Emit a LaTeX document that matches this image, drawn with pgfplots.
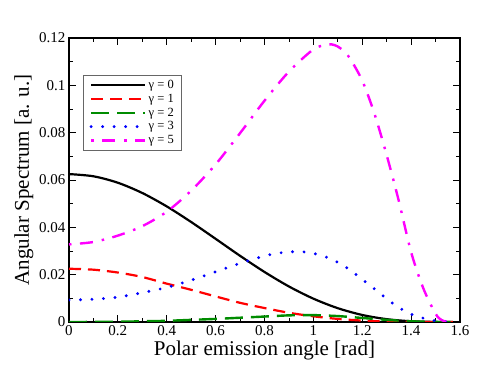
\documentclass[border=0pt]{standalone}
\usepackage{fontspec}
\setmainfont{Liberation Serif}
\usepackage{pgfplots}
\pgfplotsset{compat=1.18}

\definecolor{grgreen}{RGB}{0,140,0}
\definecolor{grmag}{RGB}{255,0,255}

\pgfplotstableread{
x      y
0      0.0625
0.1    0.06157
0.2    0.05884
0.3    0.05450
0.4    0.04884
0.5    0.04224
0.6    0.03514
0.7    0.02796
0.8    0.02114
0.9    0.01501
1.0    0.00986
1.1    0.00583
1.2    0.00297
1.3    0.00120
1.4    0.00031
1.5    0.00002
1.5708 0
}\gzero

\pgfplotstableread{
x      y
0      0.0225
0.1    0.0221
0.2    0.0209
0.3    0.0190
0.4    0.0162
0.5    0.0136
0.6    0.0108
0.7    0.0081
0.8    0.0059
0.9    0.0039
1.0    0.0024
1.1    0.0013
1.2    0.0006
1.3    0.0002
1.4    0.00005
1.5    0
1.5708 0
}\gone

\pgfplotstableread{
x      y
0      0
0.1    0.00003
0.2    0.0001
0.3    0.0003
0.4    0.0005
0.5    0.0009
0.6    0.0013
0.7    0.0018
0.8    0.0023
0.9    0.0028
1.0    0.0029
1.1    0.0025
1.2    0.0017
1.3    0.0009
1.4    0.0003
1.5    0.00003
1.5708 0
}\gtwo

\pgfplotstableread{
x      y
0      0.0093
0.1    0.0096
0.2    0.0105
0.3    0.0124
0.4    0.0146
0.5    0.0177
0.6    0.0212
0.7    0.0248
0.8    0.0279
0.85   0.0290
0.9    0.0296
0.95   0.0297
1.0    0.0290
1.05   0.0275
1.1    0.0252
1.15   0.0220
1.2    0.0180
1.25   0.0140
1.3    0.0098
1.35   0.0061
1.4    0.0033
1.45   0.0016
1.5    0.0005
1.5708 0
}\gthree

\pgfplotstableread{
x      y
0      0.0328
0.1    0.0338
0.2    0.0365
0.3    0.0405
0.4    0.0466
0.5    0.0555
0.6    0.0666
0.7    0.0798
0.8    0.0935
0.9    0.1058
1.0    0.1152
1.05   0.1170
1.075  0.1173
1.1    0.1164
1.125  0.1144
1.15   0.1113
1.2    0.1020
1.25   0.0880
1.3    0.0705
1.35   0.0510
1.4    0.0295
1.45   0.0142
1.5    0.0035
1.525  0.0008
1.55   0
1.5708 0
}\gfive

\begin{document}
\begin{tikzpicture}
\begin{axis}[
    scale only axis, width=391pt, height=284pt,
    xmin=0, xmax=1.6, ymin=0, ymax=0.12,
    xtick={0,0.2,...,1.6}, ytick={0,0.02,...,0.12},
    minor x tick num=1, minor y tick num=1,
    tick align=inside,
    major tick length=7pt, minor tick length=4pt,
    every tick/.style={black, line width=0.8pt},
    axis line style={line width=1.2pt},
    /pgf/number format/assume math mode=true,
    yticklabel style={/pgf/number format/fixed, /pgf/number format/precision=2},
    xticklabel style={/pgf/number format/fixed},
    tick label style={font=\fontsize{15}{17}\selectfont},
    xlabel={Polar emission angle [rad]},
    ylabel={Angular Spectrum [a. u.]},
    label style={font=\fontsize{21}{23}\selectfont},
    xlabel style={yshift=2pt},
    ylabel style={yshift=-1pt},
    legend style={at={(0.036,0.87)}, anchor=north west, draw=black!60,
        line width=0.9pt, font=\fontsize{12.5}{13.5}\selectfont,
        row sep=0pt, inner xsep=6pt, inner ysep=3pt, cells={anchor=west}},
    legend image code/.code={\draw[#1] (0pt,0pt) -- (54pt,0pt);},
    legend cell align=left,
]
\addplot[black, line width=2.2pt, smooth] table[x=x,y=y] {\gzero};
\addlegendentry{γ = 0}
\addplot[red, line width=2.2pt, smooth, dash pattern=on 12pt off 7pt] table[x=x,y=y] {\gone};
\addlegendentry{γ = 1}
\addplot[grgreen, line width=2.4pt, smooth, dash pattern=on 18pt off 8pt] table[x=x,y=y] {\gtwo};
\addlegendentry{γ = 2}
\addplot[blue, line width=3.2pt, smooth, line cap=round, dash pattern=on 0pt off 11.5pt] table[x=x,y=y] {\gthree};
\addlegendentry{γ = 3}
\addplot[grmag, line width=2.4pt, smooth, dash pattern=on 2.5pt off 8.5pt on 13pt off 9pt] table[x=x,y=y] {\gfive};
\addlegendentry{γ = 5}
\end{axis}
\pgfresetboundingbox
\path (current axis.south west) ++(-69pt,-57pt) rectangle ++(491pt,379pt);
\end{tikzpicture}
\end{document}
